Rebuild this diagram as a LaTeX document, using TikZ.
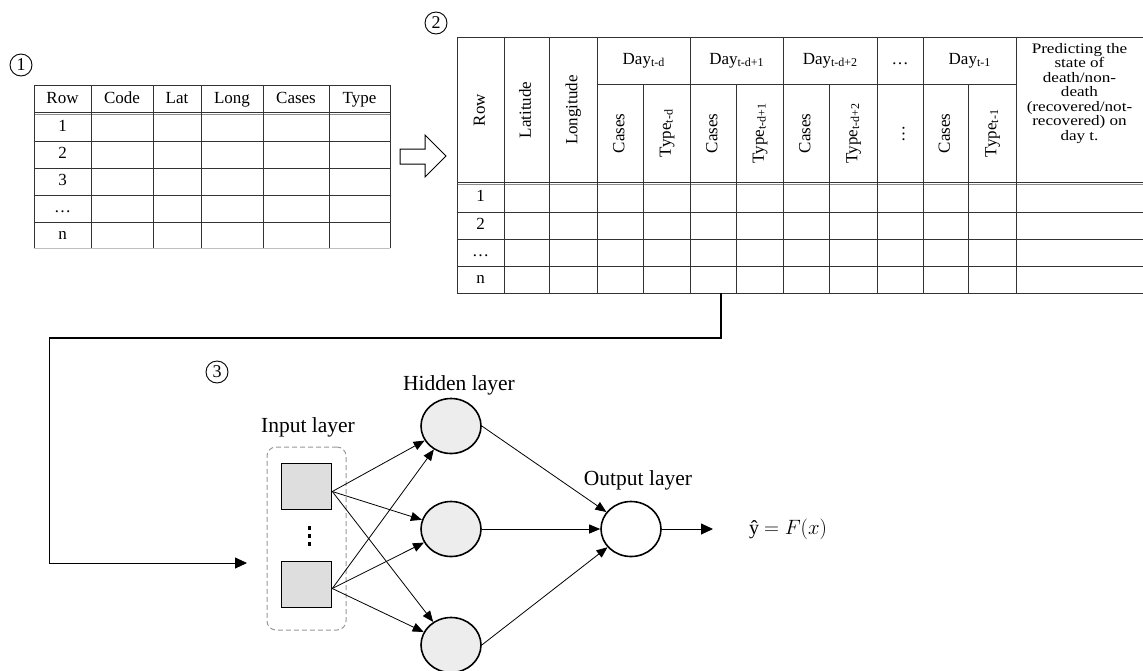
\documentclass[tikz,border=0pt]{standalone}
\usepackage{fontspec}
\setmainfont{Liberation Serif}
\usepackage{graphicx}
\usetikzlibrary{arrows.meta,shapes.geometric}
\newcommand\sbs[1]{\raisebox{-1.8pt}{\fontsize{12}{12}\selectfont #1}}
\begin{document}
\begin{tikzpicture}[x=1pt,y=-1pt,
  tline/.style={line width=0.8pt,draw=black!80},
  ttxt/.style={inner sep=0pt,font=\fontsize{17}{14.5}\selectfont,text height=12pt,text depth=3.5pt},
  vtxt/.style={ttxt,rotate=90},
  numc/.style={circle,draw,line width=0.9pt,inner sep=0pt,minimum size=22pt,font=\fontsize{18}{18}\selectfont},
  lbl/.style={inner sep=0pt,font=\fontsize{21.5}{21.5}\selectfont},
  sqr/.style={rectangle,draw,line width=1.6pt,fill=black!13,minimum width=50pt,minimum height=46pt,inner sep=0pt},
  hid/.style={ellipse,draw,line width=1.6pt,fill=black!7,minimum width=60pt,minimum height=55pt,inner sep=0pt},
  outn/.style={ellipse,draw,line width=1.6pt,fill=white,minimum width=60pt,minimum height=55pt,inner sep=0pt},
  arr/.style={line width=0.8pt,-{Triangle[length=11pt,width=9pt]}},
  bigarr/.style={line width=0.9pt,-{Triangle[length=12pt,width=11pt]}}
]
\useasboundingbox[fill=white] (0,0) rectangle (1143,670);

% ---------- step numbers ----------
\node[numc] (n1) at (21,65) {1};
\node[numc] (n2) at (436,23) {2};
\node[numc] (n3) at (217,372) {3};

% ---------- table 1 ----------
\foreach \yy in {85,141,168,195,222} \draw[tline] (34,\yy) -- (390,\yy);
\draw[tline] (34,112) -- (390,112);
\draw[line width=1.3pt,draw=black!45] (34,114.2) -- (390,114.2);
\draw[line width=0.8pt,draw=black!25] (34,248) -- (390,248);
\foreach \xx in {34,91,153,201,263,329,390} \draw[tline] (\xx,85) -- (\xx,248);
\node[ttxt] (t1h1) at (62.5,99) {Row};
\node[ttxt] (t1h2) at (122,99) {Code};
\node[ttxt] (t1h3) at (177,99) {Lat};
\node[ttxt] (t1h4) at (232,99) {Long};
\node[ttxt] (t1h5) at (296,99) {Cases};
\node[ttxt] (t1h6) at (359.5,99) {Type};
\node[ttxt] (t1r1) at (62.5,127.5) {1};
\node[ttxt] (t1r2) at (62.5,154.5) {2};
\node[ttxt] (t1r3) at (62.5,181.5) {3};
\node[ttxt] (t1r4) at (62.5,208.5) {\ldots};
\node[ttxt] (t1r5) at (62.5,235) {n};

% ---------- hollow arrow ----------
\draw[line width=1pt,line join=miter] (400,149) -- (425,149) -- (425,135) -- (446,156) -- (425,177) -- (425,164) -- (400,164) -- cycle;

% ---------- table 2 ----------
\draw[tline] (457,37) -- (1143,37);
\draw[tline] (597,84) -- (1016,84);
\draw[tline] (457,182.5) -- (1143,182.5);
\draw[line width=1.3pt,draw=black!45] (457,184.8) -- (1143,184.8);
\foreach \yy in {212,239,266,293} \draw[tline] (457,\yy) -- (1143,\yy);
\foreach \xx in {457,504,549,597,690,783,877,923,1016} \draw[tline] (\xx,37) -- (\xx,293);
\foreach \xx in {643,736,829,968} \draw[tline] (\xx,84) -- (\xx,293);

\node[vtxt] (t2row) at (480.5,110) {Row};
\node[vtxt] (t2lat) at (526.5,110) {Latitude};
\node[vtxt] (t2lon) at (573,110) {Longitude};
\node[ttxt] (d1) at (643.5,60.5) {Day\sbs{t-d}};
\node[ttxt] (d2) at (736.5,60.5) {Day\sbs{t-d+1}};
\node[ttxt] (d3) at (830,60.5) {Day\sbs{t-d+2}};
\node[ttxt] (d4) at (900,60.5) {\ldots};
\node[ttxt] (d5) at (969.5,60.5) {Day\sbs{t-1}};
\node[vtxt] (c1) at (620,133.5) {Cases};
\node[vtxt] (y1) at (666.5,133.5) {Type\sbs{t-d}};
\node[vtxt] (c2) at (713,133.5) {Cases};
\node[vtxt] (y2) at (759.5,133.5) {Type\sbs{t-d+1}};
\node[vtxt] (c3) at (806,133.5) {Cases};
\node[vtxt] (y3) at (853,133.5) {Type\sbs{t-d+2}};
\node[vtxt] (c4) at (900,133.5) {\ldots};
\node[vtxt] (c5) at (945.5,133.5) {Cases};
\node[vtxt] (y5) at (992,133.5) {Type\sbs{t-1}};
\node[inner sep=0pt,font=\fontsize{14.5}{14.5}\selectfont] (pred) at (1079.5,94) {\scalebox{1.18}[1]{\begin{tabular}{@{}c@{}}Predicting the\\state of\\death/non-\\death\\(recovered/not-\\recovered) on\\day t.\end{tabular}}};
\node[ttxt] (t2r1) at (480.5,197.5) {1};
\node[ttxt] (t2r2) at (480.5,225.5) {2};
\node[ttxt] (t2r3) at (480.5,252.5) {\ldots};
\node[ttxt] (t2r4) at (480.5,279.5) {n};

% ---------- connector ----------
\coordinate (t2out) at (721,293);
\coordinate (corner) at (49,338);
\coordinate (inarrow) at (247,563);
\draw[line width=1.8pt,line join=miter] (t2out) |- (corner);
\draw[bigarr] (corner) |- (inarrow);

% ---------- network ----------
\node[rectangle,draw=black!40,dashed,dash pattern=on 5pt off 3pt,line width=1pt,rounded corners=9pt,minimum width=79pt,minimum height=183pt] (inbox) at (306.5,538.5) {};
\node[sqr] (sq1) at (306.5,486.5) {};
\node[sqr] (sq2) at (306.5,584.5) {};
\fill (307.5,526) rectangle (310.5,530);
\fill (307.5,534) rectangle (310.5,538);
\fill (307.5,542) rectangle (310.5,546);
\node[lbl] (inlbl) at (308,427) {Input layer};

\node[hid] (h1) at (451,426) {};
\node[hid] (h2) at (451,529) {};
\node[hid] (h3) at (451,645) {};
\node[lbl] (hidlbl) at (459,385) {Hidden layer};

\node[outn] (out) at (631,529) {};
\node[lbl] (outlbl) at (638,480) {Output layer};

\coordinate (s1) at ([yshift=-5pt]sq1.east);
\coordinate (s2) at ([yshift=-4pt]sq2.east);
\foreach \h in {h1,h2,h3} {
  \draw[arr] (s1) -- (\h);
  \draw[arr] (s2) -- (\h);
}
\draw[arr] (h1.east) -- (out);
\draw[arr] (h2.east) -- (out.west);
\draw[arr] (h3.east) -- (out);

\coordinate (yout) at (713,529);
\draw[bigarr] (out.east) -- (yout);
\node[inner sep=0pt,font=\fontsize{20}{20}\selectfont] (yhat) at (788,529) {ŷ $= F(x)$};
\end{tikzpicture}
\end{document}
